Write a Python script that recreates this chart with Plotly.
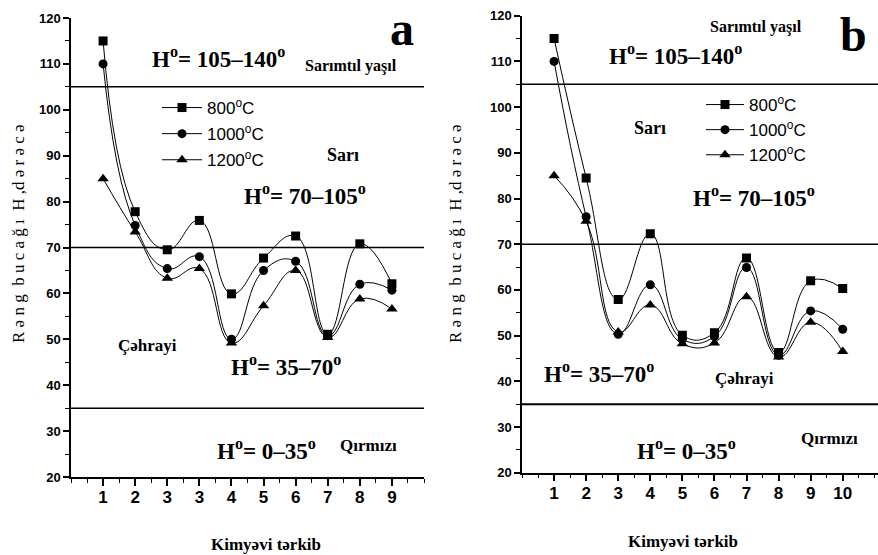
import plotly.graph_objects as go

# ---------------- data ----------------
tick_labels_a = ["1", "2", "3", "3", "4", "5", "6", "7", "8", "9"]
tick_labels_b = ["1", "2", "3", "4", "5", "6", "7", "8", "9", "10"]
pos_a = [1, 2, 3, 4, 5, 6, 7, 8, 9, 10]
pos_b = [1, 2, 3, 4, 5, 6, 7, 8, 9, 10]

a_800 = [115, 77.8, 69.5, 75.9, 59.9, 67.7, 72.5, 51.1, 70.8, 62.1]
a_1000 = [110, 74.8, 65.4, 68.0, 50.0, 65.0, 67.0, 50.8, 62.0, 60.7]
a_1200 = [85, 73.4, 63.3, 65.4, 49.2, 57.3, 65.0, 50.4, 58.8, 56.6]

b_800 = [115, 84.5, 57.9, 72.3, 50.1, 50.6, 67.0, 46.3, 62.0, 60.3]
b_1000 = [110, 76.0, 50.3, 61.1, 49.2, 49.8, 64.9, 45.7, 55.4, 51.4]
b_1200 = [85, 75.0, 50.8, 56.7, 48.2, 48.4, 58.5, 45.3, 52.9, 46.5]

series_names = ["800<sup>o</sup>C", "1000<sup>o</sup>C", "1200<sup>o</sup>C"]
symbols = ["square", "circle", "triangle-up"]

zone_bounds = [105, 70, 35]

W, H = 878, 555


def px(x):
    return x / W


def py(y):
    return 1 - y / H


fig = go.Figure()

for i, (vals, name, sym) in enumerate(zip([a_800, a_1000, a_1200], series_names, symbols)):
    fig.add_trace(go.Scatter(
        x=pos_a, y=vals, name=name, mode="lines+markers", legendgroup="a%d" % i,
        line=dict(color="black", width=1, shape="spline", smoothing=1.3),
        marker=dict(symbol=sym, size=9 if sym != "triangle-up" else 10, color="black"),
        xaxis="x", yaxis="y", legend="legend",
    ))

for i, (vals, name, sym) in enumerate(zip([b_800, b_1000, b_1200], series_names, symbols)):
    fig.add_trace(go.Scatter(
        x=pos_b, y=vals, name=name, mode="lines+markers", legendgroup="b%d" % i,
        line=dict(color="black", width=1, shape="spline", smoothing=1.3),
        marker=dict(symbol=sym, size=9 if sym != "triangle-up" else 10, color="black"),
        xaxis="x2", yaxis="y2", legend="legend2",
    ))

tickfont = dict(family="Liberation Sans", size=13, color="black", weight="bold")
xtickfont = dict(family="Liberation Sans", size=17, color="black", weight="bold")

yaxis_common = dict(
    range=[20, 120], tickmode="linear", tick0=20, dtick=10,
    ticks="outside", ticklen=6, tickwidth=1.5, tickcolor="black",
    minor=dict(tickmode="linear", tick0=20, dtick=5, ticks="outside", ticklen=4,
               tickwidth=1, tickcolor="black"),
    showline=True, linecolor="black", linewidth=1.5,
    showgrid=False, zeroline=False, tickfont=tickfont,
)

half_ticks = [0.5 * i for i in range(23)]

xaxis_common = dict(
    tickmode="array",
    ticks="outside", ticklen=7, tickwidth=1.5, tickcolor="black",
    minor=dict(tickmode="array", tickvals=half_ticks, ticks="outside", ticklen=4,
               tickwidth=1, tickcolor="black"),
    showline=True, linecolor="black", linewidth=1.5,
    showgrid=False, zeroline=False, tickfont=xtickfont, ticklabelstandoff=-3,
)

leg_font = dict(family="Liberation Sans", size=17, color="black")

fig.update_layout(
    width=W, height=H,
    margin=dict(l=0, r=0, t=0, b=0, autoexpand=False),
    paper_bgcolor="white", plot_bgcolor="white",
    xaxis=dict(domain=[px(71), px(424)], range=[0, 11], anchor="y",
               tickvals=pos_a, ticktext=tick_labels_a, **xaxis_common),
    yaxis=dict(domain=[py(477), py(18)], anchor="x", **yaxis_common),
    xaxis2=dict(domain=[px(522), 1.0], range=[0, 11.1], anchor="y2",
                tickvals=pos_b, ticktext=tick_labels_b, **xaxis_common),
    yaxis2=dict(domain=[py(472.7), py(15.7)], anchor="x2", **yaxis_common),
    legend=dict(
        x=px(157), y=py(90), xanchor="left", yanchor="top",
        bgcolor="rgba(0,0,0,0)", font=leg_font, tracegroupgap=1, itemwidth=40,
    ),
    legend2=dict(
        x=px(701), y=py(87), xanchor="left", yanchor="top",
        bgcolor="rgba(0,0,0,0)", font=leg_font, tracegroupgap=0, itemwidth=38,
    ),
    showlegend=True,
)

# zone boundary lines
for b in zone_bounds:
    fig.add_shape(type="line", xref="x domain", yref="y", x0=0, x1=1, y0=b, y1=b,
                  line=dict(color="black", width=1.5))
    fig.add_shape(type="line", xref="x2 domain", yref="y2", x0=0, x1=1, y0=b, y1=b,
                  line=dict(color="black", width=1.5 if b != 35 else 2))

serif_b = "Liberation Serif, Times New Roman, DejaVu Serif, serif"


def ann(text, x, y, size, weight="bold", family=serif_b, xanchor="center", angle=0):
    fig.add_annotation(
        text=text, x=px(x), y=py(y), xref="paper", yref="paper",
        xanchor=xanchor, yanchor="middle", showarrow=False, textangle=angle,
        font=dict(family=family, size=size, color="black", weight=weight),
    )


# panel a
ann("a", 402, 28, 48)
ann("H<sup>o</sup>= 105–140<sup>o</sup>", 218, 57, 23)
ann("Sarımtıl yaşıl", 351, 66, 16)
ann("Sarı", 343, 155, 18)
ann("H<sup>o</sup>= 70–105<sup>o</sup>", 305, 195, 23)
ann("Çəhrayi", 147, 345, 17)
ann("H<sup>o</sup>= 35–70<sup>o</sup>", 286, 365, 23)
ann("H<sup>o</sup>= 0–35<sup>o</sup>", 266, 449, 23)
ann("Qırmızı", 368, 445, 17)
ann("Kimyəvi tərkib", 266, 544, 17)
ann("R ə n g  b u c a ğ ı  H ,d ə r ə c ə", 18, 234, 17, weight="normal", angle=-90)

# panel b
ann("b", 853, 34, 48)
ann("Sarımtıl yaşıl", 756, 27, 16)
ann("H<sup>o</sup>= 105–140<sup>o</sup>", 675, 54, 23)
ann("Sarı", 650, 128, 18)
ann("H<sup>o</sup>= 70–105<sup>o</sup>", 754, 197, 23)
ann("H<sup>o</sup>= 35–70<sup>o</sup>", 599, 372, 23)
ann("Çəhrayi", 744, 378, 17)
ann("H<sup>o</sup>= 0–35<sup>o</sup>", 686, 449, 23)
ann("Qırmızı", 829, 438, 17)
ann("Kimyəvi tərkib", 683, 541, 17)
ann("R ə n g  b u c a ğ ı  H ,d ə r ə c ə", 455, 234, 17, weight="normal", angle=-90)

fig.write_html(
    "out.html",
    config={"displayModeBar": False},
    post_script="document.body.style.margin='0';document.body.style.padding='0';",
)
